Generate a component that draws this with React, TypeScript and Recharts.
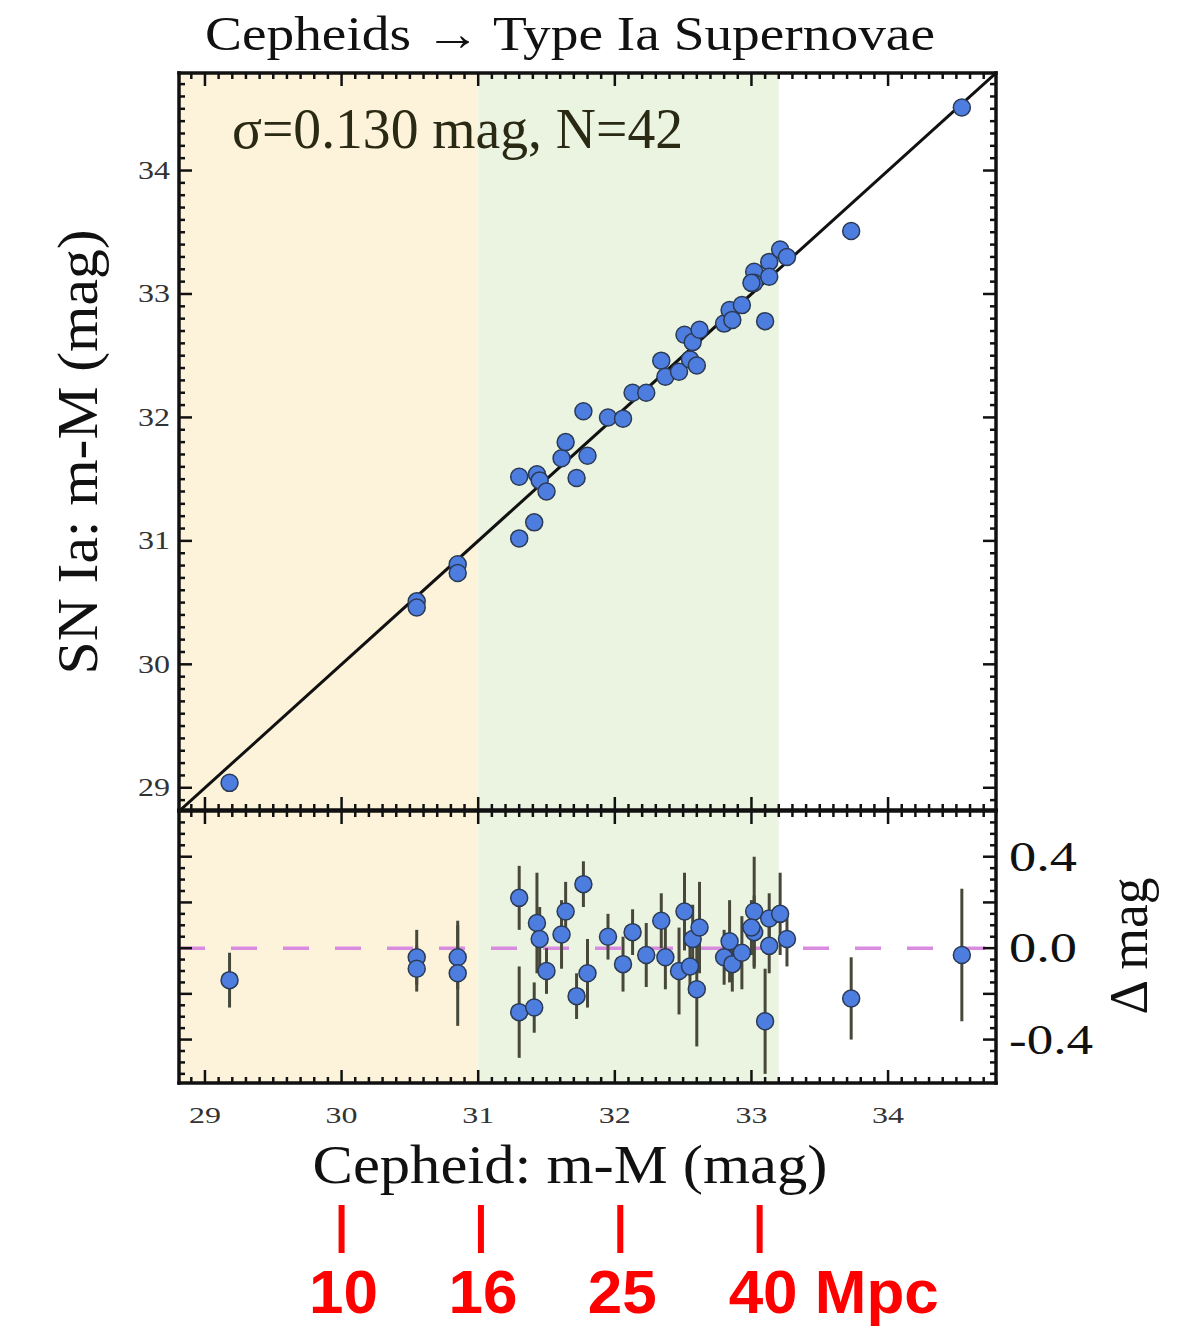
import React from 'react'
import {
  ScatterChart, Scatter, XAxis, YAxis, ReferenceArea, ReferenceLine, ErrorBar,
} from 'recharts'

// Cepheid distance modulus (x), SN Ia distance modulus (y), residual error bar
const CEPHEID = [
  29.18, 30.55, 30.55, 30.85, 30.85, 31.30, 31.30, 31.43, 31.41, 31.45, 31.50, 31.61, 31.64, 31.72,
  31.77, 31.80, 31.95, 32.06, 32.13, 32.23, 32.34, 32.37, 32.47, 32.51, 32.55, 32.57, 32.62, 32.60,
  32.80, 32.84, 32.86, 32.93, 33.02, 33.02, 33.00, 33.13, 33.13, 33.10, 33.21, 33.26, 33.73, 34.54,
]
const SN_IA = [
  29.04, 30.51, 30.46, 30.81, 30.74, 31.52, 31.02, 31.54, 31.15, 31.49, 31.40, 31.67, 31.80, 31.51,
  32.05, 31.69, 32.00, 31.99, 32.20, 32.20, 32.46, 32.33, 32.37, 32.67, 32.47, 32.61, 32.71, 32.42,
  32.76, 32.87, 32.79, 32.91, 33.18, 33.09, 33.09, 33.26, 33.14, 32.78, 33.36, 33.30, 33.51, 34.51,
]
const ERR = [
  0.12, 0.12, 0.10, 0.14, 0.23, 0.14, 0.20, 0.22, 0.11, 0.14, 0.10, 0.15, 0.13, 0.10,
  0.10, 0.15, 0.10, 0.12, 0.10, 0.14, 0.12, 0.14, 0.19, 0.17, 0.12, 0.15, 0.20, 0.25,
  0.12, 0.18, 0.12, 0.16, 0.24, 0.16, 0.12, 0.11, 0.12, 0.23, 0.18, 0.12, 0.18, 0.29,
]

const X_DOMAIN: [number, number] = [28.81, 34.79]
const Y_DOMAIN: [number, number] = [28.82, 34.79]
const R_DOMAIN: [number, number] = [-0.59, 0.6]

const X_TICKS = Array.from({ length: 59 }, (_, i) => Math.round((28.9 + i * 0.1) * 10) / 10)
const Y_TICKS = Array.from({ length: 59 }, (_, i) => Math.round((28.9 + i * 0.1) * 10) / 10)
const R_TICKS = Array.from({ length: 23 }, (_, i) => Math.round((-0.55 + i * 0.05) * 100) / 100)
const X_LABELS = [29, 30, 31, 32, 33, 34]
const Y_LABELS = [29, 30, 31, 32, 33, 34]
const R_LABELS = [-0.4, 0, 0.4]

const MPC_TICKS = [30.0, 31.02, 32.04, 33.06]
const MPC_LABELS = ['10', '16', '25', '40 Mpc']

const ORANGE_BAND = [X_DOMAIN[0], 31.0]
const GREEN_BAND = [31.0, 33.2]

const topData = CEPHEID.map((x, i) => ({ x, y: SN_IA[i] }))
const resData = CEPHEID.map((x, i) => ({ x, y: +(SN_IA[i] - x).toFixed(2), err: ERR[i] }))

const SERIF = '"Liberation Serif", "DejaVu Serif", serif'
const FRAME = { stroke: '#111', strokeWidth: 3.5, strokeLinecap: 'square' as const }

const near = (v: number, list: number[]) => list.some(l => Math.abs(l - v) < 1e-6)
const isMajor = (v: number, step: number) => Math.abs(v / step - Math.round(v / step)) < 1e-6

function frameTick(side: 'top' | 'bottom' | 'left' | 'right', step: number, label?: (v: number, x: number, y: number) => React.ReactNode) {
  return (p: any) => {
    const v = p.payload.value
    const len = isMajor(v, step) ? 13 : 6
    const { x, y } = p
    let x2 = x
    let y2 = y
    if (side === 'top') y2 = y + len
    if (side === 'bottom') y2 = y - len
    if (side === 'left') x2 = x + len
    if (side === 'right') x2 = x - len
    return (
      <g>
        <line x1={x} y1={y} x2={x2} y2={y2} stroke="#111" strokeWidth={2.5} />
        {label ? label(v, x, y) : null}
      </g>
    )
  }
}

const leftLabel = (v: number, x: number, y: number) =>
  near(v, Y_LABELS) ? (
    <text x={x - 9} y={y} textAnchor="end" dominantBaseline="central" fontFamily={SERIF}
      fontSize={25} fill="#333" textLength={32} lengthAdjust="spacingAndGlyphs">{v}</text>
  ) : null

const bottomLabel = (v: number, x: number, y: number) =>
  near(v, X_LABELS) ? (
    <text x={x} y={y + 32} textAnchor="middle" dominantBaseline="central" fontFamily={SERIF}
      fontSize={24} fill="#333" textLength={32} lengthAdjust="spacingAndGlyphs">{v}</text>
  ) : null

const rightLabel = (v: number, x: number, y: number) => {
  if (!near(v, R_LABELS)) return null
  const s = v.toFixed(1)
  return (
    <text x={x + 13} y={y} textAnchor="start" dominantBaseline="central" fontFamily={SERIF}
      fontSize={42} fill="#111" textLength={s.length > 3 ? 84 : 68} lengthAdjust="spacingAndGlyphs">{s}</text>
  )
}

const mpcTick = (p: any) => {
  const { x, y, index } = p
  const last = index === MPC_LABELS.length - 1
  return (
    <g>
      <line x1={x} y1={y + 22} x2={x} y2={y + 70} stroke="#ff0000" strokeWidth={6} />
      <text x={last ? x - 31 : x + 2} y={y + 130} textAnchor={last ? 'start' : 'middle'}
        fontFamily='"Liberation Sans", Arial, sans-serif' fontWeight="bold" fontSize={62} fill="#ff0000">
        {MPC_LABELS[index]}
      </text>
    </g>
  )
}

const dot = (p: any) => (
  <circle cx={p.cx} cy={p.cy} r={8.5} fill="#4d7ddf" stroke="#2b3a55" strokeWidth={1.5} />
)

const axisCommon = {
  type: 'number' as const,
  allowDataOverflow: true,
  interval: 0 as const,
  tickSize: 0,
  tickMargin: 0,
  tickLine: false,
  axisLine: FRAME,
}

function TopPanel() {
  return (
    <ScatterChart width={1204} height={812} margin={{ top: 72, right: 207, bottom: 1, left: 119 }}>
      <XAxis xAxisId="b" dataKey="x" domain={X_DOMAIN} ticks={X_TICKS} height={1} {...axisCommon}
        tick={frameTick('bottom', 1)} />
      <XAxis xAxisId="t" orientation="top" dataKey="x" domain={X_DOMAIN} ticks={X_TICKS} height={1} {...axisCommon}
        tick={frameTick('top', 1)} />
      <YAxis yAxisId="l" dataKey="y" domain={Y_DOMAIN} ticks={Y_TICKS} width={60} {...axisCommon}
        tick={frameTick('left', 1, leftLabel)} />
      <YAxis yAxisId="r" orientation="right" dataKey="y" domain={Y_DOMAIN} ticks={Y_TICKS} width={1} {...axisCommon}
        tick={frameTick('right', 1)} />
      <ReferenceArea xAxisId="b" yAxisId="l" x1={ORANGE_BAND[0]} x2={ORANGE_BAND[1]} fill="#fdf3da" fillOpacity={1} stroke="none" ifOverflow="hidden" />
      <ReferenceArea xAxisId="b" yAxisId="l" x1={GREEN_BAND[0]} x2={GREEN_BAND[1]} fill="#eaf4e0" fillOpacity={1} stroke="none" ifOverflow="hidden" />
      <ReferenceLine xAxisId="b" yAxisId="l" segment={[{ x: 28.5, y: 28.5 }, { x: 35, y: 35 }]}
        stroke="#111" strokeWidth={3} ifOverflow="hidden" />
      <Scatter xAxisId="b" yAxisId="l" data={topData} shape={dot} isAnimationActive={false} />
    </ScatterChart>
  )
}

function BottomPanel() {
  return (
    <ScatterChart width={1204} height={528} margin={{ top: 10, right: 207, bottom: 2, left: 119 }}>
      <XAxis xAxisId="b" dataKey="x" domain={X_DOMAIN} ticks={X_TICKS} height={100} {...axisCommon}
        tick={frameTick('bottom', 1, bottomLabel)} />
      <XAxis xAxisId="m" dataKey="x" domain={X_DOMAIN} ticks={MPC_TICKS} height={143} {...axisCommon}
        axisLine={false} tick={mpcTick} />
      <XAxis xAxisId="t" orientation="top" dataKey="x" domain={X_DOMAIN} ticks={X_TICKS} height={1} {...axisCommon}
        tick={frameTick('top', 1)} />
      <YAxis yAxisId="l" dataKey="y" domain={R_DOMAIN} ticks={R_TICKS} width={60} {...axisCommon}
        tick={frameTick('left', 0.2)} />
      <YAxis yAxisId="r" orientation="right" dataKey="y" domain={R_DOMAIN} ticks={R_TICKS} width={1} {...axisCommon}
        tick={frameTick('right', 0.2, rightLabel)} />
      <ReferenceArea xAxisId="b" yAxisId="l" x1={ORANGE_BAND[0]} x2={ORANGE_BAND[1]} fill="#fdf3da" fillOpacity={1} stroke="none" ifOverflow="hidden" />
      <ReferenceArea xAxisId="b" yAxisId="l" x1={GREEN_BAND[0]} x2={GREEN_BAND[1]} fill="#eaf4e0" fillOpacity={1} stroke="none" ifOverflow="hidden" />
      <ReferenceLine xAxisId="b" yAxisId="l" y={0} stroke="#d98be0" strokeWidth={3.5} strokeDasharray="26 26" />
      <Scatter xAxisId="b" yAxisId="l" data={resData} shape={dot} isAnimationActive={false}>
        <ErrorBar dataKey="err" direction="y" width={0} stroke="#48483a" strokeWidth={3} isAnimationActive={false} />
      </Scatter>
    </ScatterChart>
  )
}

export default function App() {
  return (
    <div style={{ position: 'absolute', left: 0, top: 0, width: 1204, height: 1328, background: '#fff' }}>
      <div style={{ position: 'absolute', left: 0, top: 0 }}>
        <TopPanel />
      </div>
      <div style={{ position: 'absolute', left: 0, top: 800 }}>
        <BottomPanel />
      </div>
      <svg width={1204} height={1328} style={{ position: 'absolute', left: 0, top: 0, pointerEvents: 'none' }}>
        <text x={570} y={50} textAnchor="middle" fontFamily={SERIF} fontSize={48} fill="#111"
          textLength={730} lengthAdjust="spacingAndGlyphs">Cepheids → Type Ia Supernovae</text>
        <text x={232} y={148} fontFamily={SERIF} fontSize={56} fill="#2a2a14"
          textLength={451} lengthAdjust="spacingAndGlyphs">σ=0.130 mag, N=42</text>
        <text transform="translate(97,452) rotate(-90)" textAnchor="middle" fontFamily={SERIF} fontSize={58} fill="#111"
          textLength={445} lengthAdjust="spacingAndGlyphs">SN Ia: m-M (mag)</text>
        <text x={570} y={1183} textAnchor="middle" fontFamily={SERIF} fontSize={54} fill="#111"
          textLength={515} lengthAdjust="spacingAndGlyphs">Cepheid: m-M (mag)</text>
        <text transform="translate(1147,946) rotate(-90)" textAnchor="middle" fontFamily={SERIF} fontSize={54} fill="#111"
          textLength={137} lengthAdjust="spacingAndGlyphs">Δ mag</text>
      </svg>
    </div>
  )
}
